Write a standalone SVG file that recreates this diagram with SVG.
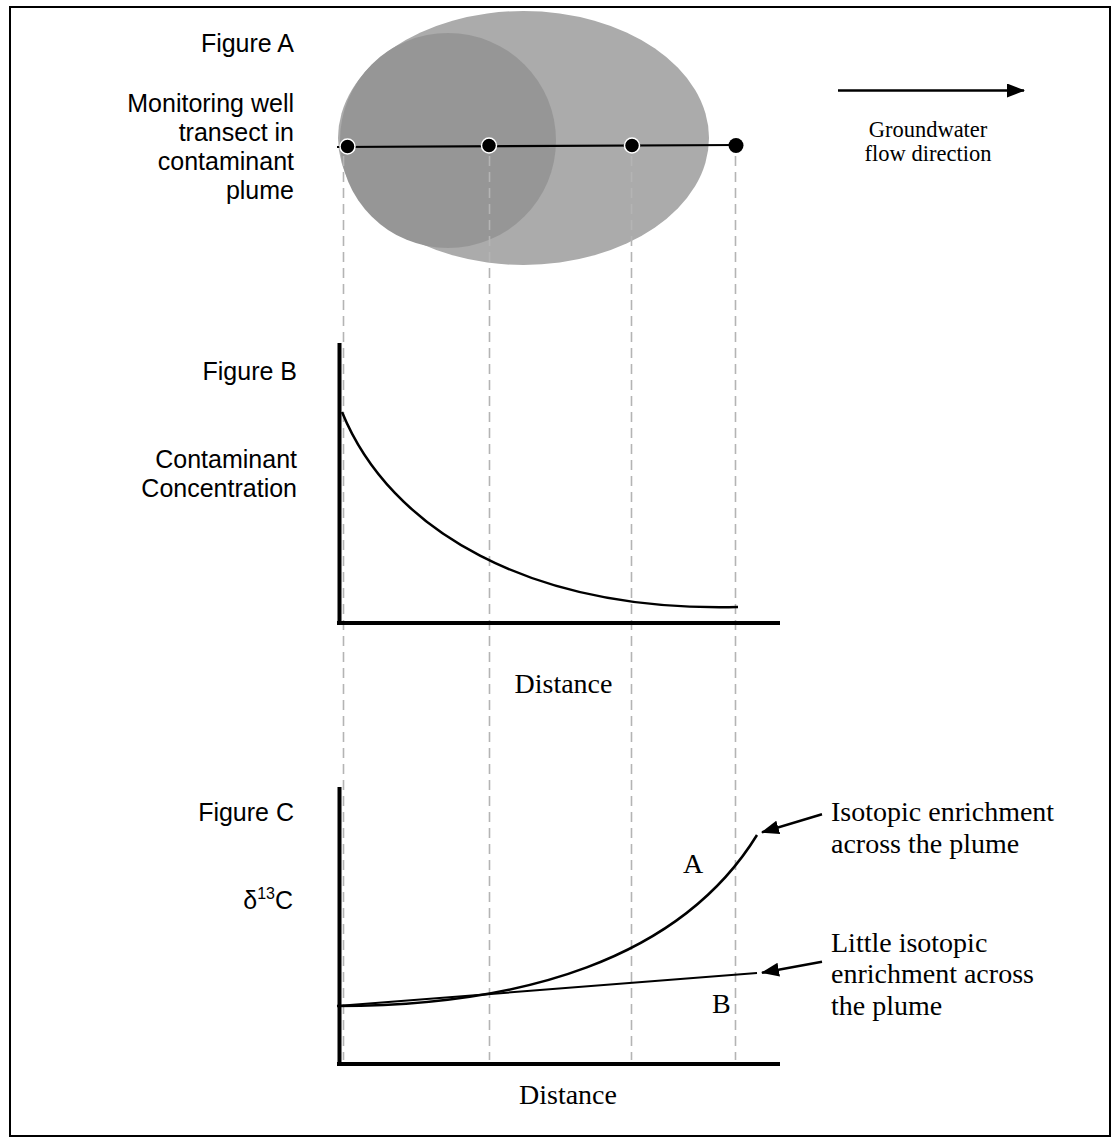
<svg xmlns="http://www.w3.org/2000/svg" width="1112" height="1138" viewBox="0 0 1112 1138">
<defs>
<style>
.sans{font-family:"Liberation Sans",Arial,sans-serif;font-size:25px;fill:#000}
.serif{font-family:"Liberation Serif","Times New Roman",serif;font-size:28px;fill:#000}
.gw{font-family:"Liberation Serif","Times New Roman",serif;font-size:22.5px;fill:#000}
.dash{stroke:#b4b4b4;stroke-width:1.6;stroke-dasharray:10,6;fill:none}
.axis{stroke:#000;stroke-width:4;fill:none}
.curve{stroke:#000;stroke-width:2.5;fill:none}
.thin{stroke:#000;stroke-width:2;fill:none}
.well{fill:#000;stroke:#fff;stroke-width:1.5}
</style>
<marker id="ah" markerWidth="18" markerHeight="14" refX="17" refY="7" orient="auto" markerUnits="userSpaceOnUse">
<path d="M0,0 L18,7 L0,14 z" fill="#000"/>
</marker>
</defs>
<rect x="10" y="7" width="1100" height="1129" fill="#fff" stroke="#000" stroke-width="2"/>

<g id="figureA">
<ellipse cx="523.5" cy="138" rx="185.5" ry="127" fill="#ababab"/>
<ellipse cx="448" cy="140.5" rx="108" ry="107.5" fill="#969696"/>
<text class="sans" x="294" y="52" text-anchor="end">Figure A</text>
<text class="sans" text-anchor="end"><tspan x="294" y="111.5">Monitoring well</tspan><tspan x="294" y="140.7">transect in</tspan><tspan x="294" y="170">contaminant</tspan><tspan x="294" y="199.3">plume</tspan></text>
</g>

<g id="connectors">
<line class="dash" x1="343.5" y1="156" x2="343.5" y2="1060"/>
<line class="dash" x1="489.5" y1="156" x2="489.5" y2="1060"/>
<line class="dash" x1="631.5" y1="156" x2="631.5" y2="1060"/>
<line class="dash" x1="735.5" y1="156" x2="735.5" y2="1060"/>
<line x1="337" y1="147" x2="737" y2="145" stroke="#000" stroke-width="2.2"/>
<line x1="838" y1="90.5" x2="1024" y2="90.5" stroke="#000" stroke-width="2.5" marker-end="url(#ah)"/>
<line x1="822" y1="814.3" x2="762" y2="832.3" stroke="#000" stroke-width="2.5" marker-end="url(#ah)"/>
<line x1="822" y1="961.7" x2="762" y2="972.7" stroke="#000" stroke-width="2.5" marker-end="url(#ah)"/>
</g>

<g id="wells">
<circle class="well" cx="347.5" cy="146.5" r="7.5"/>
<circle class="well" cx="489" cy="145.5" r="7.5"/>
<circle class="well" cx="632" cy="145.5" r="7.5"/>
<circle cx="736" cy="145.5" r="7.5" fill="#000"/>
</g>

<g id="flow-label">
<text class="gw" text-anchor="middle"><tspan x="928" y="137">Groundwater</tspan><tspan x="928" y="161">flow direction</tspan></text>
</g>

<g id="figureB">
<line class="axis" x1="339.5" y1="343" x2="339.5" y2="625"/>
<line class="axis" x1="337" y1="623" x2="780" y2="623"/>
<path class="curve" d="M342,412 C390,530 530,612 738,607"/>
<text class="sans" x="297" y="380" text-anchor="end">Figure B</text>
<text class="sans" text-anchor="end"><tspan x="297" y="468">Contaminant</tspan><tspan x="297" y="497">Concentration</tspan></text>
<text class="serif" x="563.5" y="692.5" text-anchor="middle">Distance</text>
</g>

<g id="figureC">
<line class="axis" x1="339.5" y1="787" x2="339.5" y2="1066"/>
<line class="axis" x1="337" y1="1064" x2="780" y2="1064"/>
<path class="curve" d="M337,1006 C520,1006 680,960 757,835"/>
<line class="thin" x1="337" y1="1006" x2="757" y2="973"/>
<text class="sans" x="294" y="821" text-anchor="end">Figure C</text>
<text class="sans" x="293" y="909" text-anchor="end">δ<tspan font-size="16" dy="-10">13</tspan><tspan dy="10">C</tspan></text>
<text class="serif" x="683" y="873">A</text>
<text class="serif" x="712" y="1013">B</text>
<text class="serif" x="568" y="1104" text-anchor="middle">Distance</text>
</g>

<g id="labelA">
<text class="serif"><tspan x="831" y="820.5">Isotopic enrichment</tspan><tspan x="831" y="852.5">across the plume</tspan></text>
</g>
<g id="labelB">
<text class="serif"><tspan x="831" y="951.5">Little isotopic</tspan><tspan x="831" y="983.3">enrichment across</tspan><tspan x="831" y="1015">the plume</tspan></text>
</g>
</svg>
